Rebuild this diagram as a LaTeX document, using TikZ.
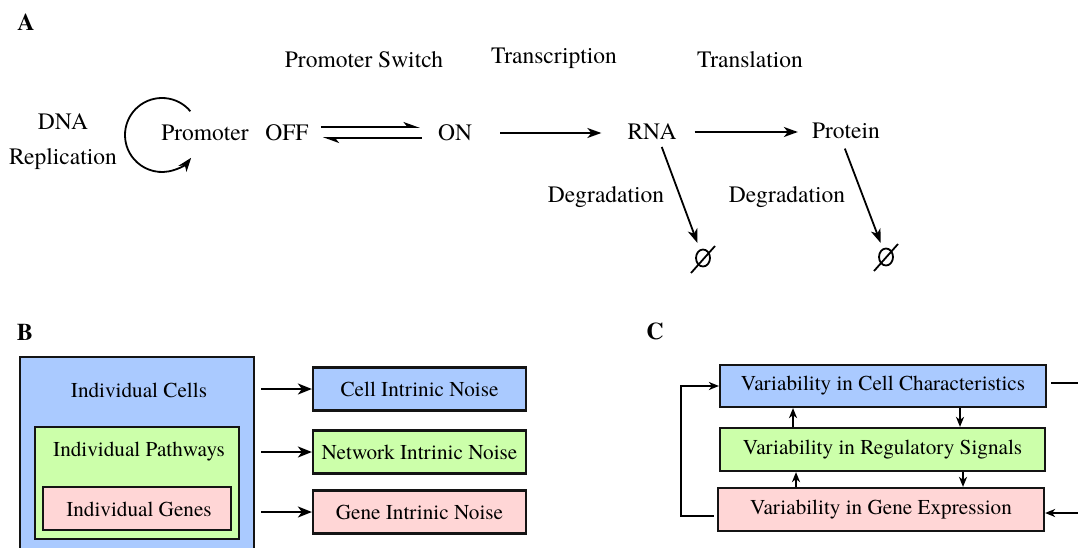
\documentclass[tikz,border=0pt]{standalone}
\usepackage{fontspec}
\setmainfont{texgyretermes}[Extension=.otf, UprightFont=*-regular, BoldFont=*-bold]
\usetikzlibrary{arrows.meta,shapes.geometric,calc}

\definecolor{cellblue}{RGB}{170,202,255}
\definecolor{netgreen}{RGB}{204,255,170}
\definecolor{genepink}{RGB}{255,214,214}
\definecolor{edgegray}{RGB}{20,20,20}

\begin{document}
\begin{tikzpicture}[x=1pt,y=-1pt,
  lblA/.style={font=\fontsize{23.5}{28}\selectfont, inner sep=2pt},
  lblB/.style={font=\fontsize{21.2}{25}\selectfont, inner sep=2pt},
  panel/.style={font=\fontsize{24}{28}\selectfont\bfseries, inner sep=0pt},
  box/.style={draw=edgegray, line width=2.2pt, inner sep=0pt, font=\fontsize{21.2}{25}\selectfont},
  flowA/.style={line width=1.8pt, -{Stealth[length=14pt,width=10pt,inset=4pt]}},
  harp/.style={line width=1.7pt, -{Stealth[harpoon,length=14pt,width=10pt,inset=4pt]}},
  flowB/.style={line width=2pt, -{Stealth[length=14pt,width=11pt,inset=4pt]}},
  flowC/.style={line width=1.8pt, -{Stealth[length=10pt,width=8pt,inset=3pt]}},
  nullset/.style={draw, line width=1.8pt, ellipse, minimum width=14pt, minimum height=17pt, inner sep=0pt},
  slash/.style={line width=1.8pt},
]
\path[use as bounding box] (0,0) rectangle (1078,548);
\clip (0,0) rectangle (1078,548);

% ---------------- Panel A: gene expression scheme ----------------
\node[panel] (labA) at (26,22) {A};

\node[lblA] (dna)  at (63,122) {DNA};
\node[lblA] (repl) at (63,159) {Replication};
\node[lblA] (prom) at (205,133) {Promoter};
\node[lblA] (off)  at (287,133) {OFF};
\node[lblA] (on)   at (455,133) {ON};
\node[lblA] (rna)  at (652,132) {RNA};
\node[lblA] (prot) at (846,131) {Protein};

\node[lblA] (sw)    at (364,60) {Promoter Switch};
\node[lblA] (trsc)  at (554,58) {Transcription};
\node[lblA] (trsl)  at (750,60) {Translation};
\node[lblA] (degr1) at (606,197) {Degradation};
\node[lblA] (degr2) at (787,197) {Degradation};

% replication loop around the promoter
\coordinate (loopc) at (162,135);
\draw[flowA] ([shift={(-40:37)}]loopc) arc[start angle=-40, end angle=-322, radius=37];

% promoter switching (reversible)
\draw[harp, shorten <=10pt, shorten >=16pt]
  ([yshift=6pt]off.east) -- ([yshift=6pt]off.east -| on.west);
\draw[harp, shorten <=14pt, shorten >=12pt]
  ([yshift=-5pt]off.east -| on.west) -- ([yshift=-5pt]off.east);

% transcription and translation
\draw[flowA, shorten <=26pt, shorten >=24pt] (on.east) -- (on.east -| rna.west);
\draw[flowA, shorten <=16pt, shorten >=12pt] (rna.east) -- (rna.east -| prot.west);

% degradation
\node[nullset] (null1) at (703,258) {};
\node[nullset] (null2) at (886,257) {};
\draw[slash] ([shift={(-12,15)}]null1.center) -- ([shift={(12,-12)}]null1.center);
\draw[slash] ([shift={(-12,14)}]null2.center) -- ([shift={(12,-13)}]null2.center);
\draw[flowA, shorten <=5pt, shorten >=16pt] ([xshift=8pt]rna.south) -- (null1.center);
\draw[flowA, shorten <=8pt, shorten >=15pt] ([xshift=-4pt]prot.south) -- (null2.center);

% ---------------- Panel B: nested levels of noise ----------------
\node[panel] (labB) at (25,332) {B};

\node[box, fill=cellblue, minimum width=234pt, minimum height=250pt] (cells) at (137,482) {};
\node[box, fill=netgreen, minimum width=204pt, minimum height=112pt] (paths) at (137,483) {};
\node[box, fill=genepink, minimum width=188pt, minimum height=43pt] (genes) at (137,508.5) {};
\node[lblB] (cellstxt) at (139,390) {Individual Cells};
\node[lblB] (pathstxt) at (139,452) {Individual Pathways};
\node[lblB] (genestxt) at (139,509) {Individual Genes};

\node[box, fill=cellblue, minimum width=213pt, minimum height=43pt] (cin) at (419.5,389) {Cell Intrinic Noise};
\node[box, fill=netgreen, minimum width=213pt, minimum height=43pt] (nin) at (419.5,452) {Network Intrinic Noise};
\node[box, fill=genepink, minimum width=213pt, minimum height=43pt] (gin) at (419.5,512) {Gene Intrinic Noise};

\draw[flowB, shorten <=6pt] (cells.east |- cin.west) -- (cin.west);
\draw[flowB, shorten <=6pt] (cells.east |- nin.west) -- (nin.west);
\draw[flowB, shorten <=6pt] (cells.east |- gin.west) -- (gin.west);

% ---------------- Panel C: coupled variability ----------------
\node[panel] (labC) at (655,331) {C};

\node[box, fill=cellblue, minimum width=326pt, minimum height=42pt] (vcell) at (883,386) {Variability in Cell Characteristics};
\node[box, fill=netgreen, minimum width=325pt, minimum height=43pt] (vreg) at (882.5,449.5) {Variability in Regulatory Signals};
\node[box, fill=genepink, minimum width=326pt, minimum height=43pt] (vgene) at (881,509.5) {Variability in Gene Expression};

\coordinate (upA) at (793,0);
\coordinate (dnA) at (960,0);
\coordinate (upB) at (796,0);
\coordinate (dnB) at (963,0);
\draw[flowC] (vreg.north -| upA) -- (vcell.south -| upA);
\draw[flowC] (vcell.south -| dnA) -- (vreg.north -| dnA);
\draw[flowC] (vgene.north -| upB) -- (vreg.south -| upB);
\draw[flowC] (vreg.south -| dnB) -- (vgene.north -| dnB);

\draw[flowC, shorten <=3pt] ([yshift=-6.5pt]vgene.west) -- ++(-36,0) |- (vcell.west);
\draw[flowC, shorten <=4pt] ([yshift=3pt]vcell.east) -- ++(40,0) |- ([yshift=-3.5pt]vgene.east);
\end{tikzpicture}
\end{document}
